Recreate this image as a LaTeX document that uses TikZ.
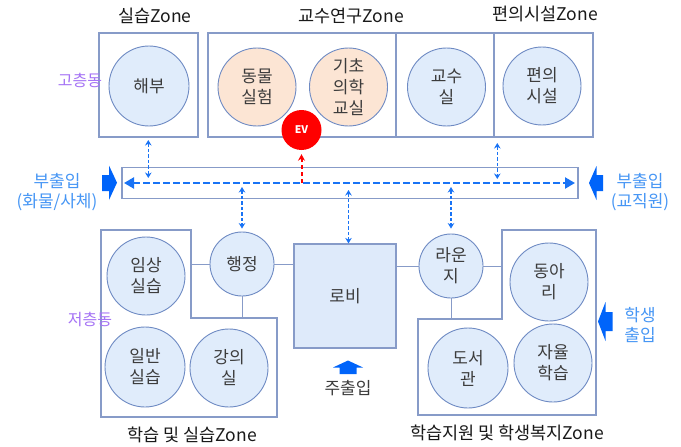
\documentclass[tikz,border=0pt]{standalone}
\usepackage{fontspec}
\setmainfont{Noto Sans CJK KR}
\usetikzlibrary{arrows.meta}
\definecolor{boxline}{RGB}{135,155,200}
\definecolor{circfill}{RGB}{224,236,251}
\definecolor{circline}{RGB}{110,138,195}
\definecolor{orfill}{RGB}{252,229,212}
\definecolor{lobbyfill}{RGB}{222,234,250}
\definecolor{flowblue}{RGB}{25,115,245}
\definecolor{blockblue}{RGB}{0,100,250}
\definecolor{labelblue}{RGB}{70,150,245}
\definecolor{purp}{RGB}{165,115,245}
\definecolor{evred}{RGB}{255,0,0}
\definecolor{txtgray}{RGB}{60,60,60}
\definecolor{hdrcol}{RGB}{25,25,25}
\newcommand\rmfnt{\fontsize{17}{21}\selectfont}
\newcommand\hdfnt{\fontsize{17.5}{20}\selectfont}
\newcommand\sdfnt{\fontsize{17}{20}\selectfont}
\newcommand\wgfnt{\fontsize{16}{20}\selectfont}
\begin{document}
\begin{tikzpicture}[x=1pt,y=-1pt,
  zonebox/.style={draw=boxline, line width=1.2pt},
  room/.style={circle, draw=circline, fill=circfill, line width=0.9pt, inner sep=0pt, align=center, text=txtgray, font=\rmfnt},
  labroom/.style={room, fill=orfill},
  hdr/.style={text=hdrcol, font=\hdfnt},
  entry/.style={text=labelblue, font=\sdfnt, align=center},
  wing/.style={text=purp, font=\wgfnt},
  blockarrow/.style={fill=blockblue, draw=none},
  link/.style={draw=boxline, line width=1pt},
  flow/.style={draw=flowblue, line width=1.3pt, dash pattern=on 3.5pt off 2pt, {Stealth[length=5.5pt,width=6.5pt]}-{Stealth[length=5.5pt,width=6.5pt]}},
  mainflow/.style={draw=flowblue, line width=2.2pt, dash pattern=on 6.5pt off 3.5pt, {Triangle[length=10pt,width=11pt]}-{Triangle[length=10pt,width=11pt]}},
  evflow/.style={draw=evred, line width=2pt, dash pattern=on 4.5pt off 2.5pt, -{Stealth[length=6.5pt,width=7pt]}}
]
\useasboundingbox[fill=white] (0,0) rectangle (681,447);

% top zones
\draw[zonebox] (99,33) rectangle (198,137);
\draw[zonebox] (208,33) rectangle (593,137);
\draw[zonebox] (396,33) -- (396,137);
\draw[zonebox] (494,33) -- (494,137);

\node[room, minimum size=80pt] (haebu) at (149,86) {해부};
\node[labroom, minimum size=78pt] (dongmul) at (257,87) {동물\\실험};
\node[labroom, minimum size=78pt] (gicho) at (348.5,87) {기초\\의학\\교실};
\node[room, minimum size=78pt] (gyosu) at (446.5,87) {교수\\실};
\node[room, minimum size=78pt] (pyeonui) at (542,86) {편의\\시설};
\node[circle, fill=evred, minimum size=40pt, inner sep=0pt, text=white, font=\bfseries\fontsize{10.5}{11}\selectfont] (ev) at (301.5,130) {EV};

% corridor
\node[draw=boxline, line width=1.2pt, fill=white, minimum width=456pt, minimum height=31pt, inner sep=0pt] (corr) at (350,183) {};
\coordinate (mL) at (124,183);
\coordinate (mR) at (575,183);
\draw[mainflow] (mL) -- (mR);

% upper flows
\coordinate (a1t) at (148.3,140);
\coordinate (a1b) at (148.3,178);
\draw[flow] (a1t) -- (a1b);
\coordinate (a2t) at (497.3,143);
\coordinate (a2b) at (497.3,179);
\draw[flow] (a2t) -- (a2b);
\coordinate (evbase) at (301.5,183);
\draw[evflow, shorten >=4pt] (evbase) -- (ev.south);

% lower zones
\coordinate (L1) at (101,230);
\coordinate (L2) at (191,230);
\coordinate (L3) at (191,318);
\coordinate (L4) at (277,318);
\coordinate (L5) at (277,417);
\coordinate (L6) at (101,417);
\draw[zonebox] (L1) -- (L2) -- (L3) -- (L4) -- (L5) -- (L6) -- cycle;
\coordinate (R1) at (502,230);
\coordinate (R2) at (596,230);
\coordinate (R3) at (596,415);
\coordinate (R4) at (418,415);
\coordinate (R5) at (418,319);
\coordinate (R6) at (502,319);
\draw[zonebox] (R1) -- (R2) -- (R3) -- (R4) -- (R5) -- (R6) -- cycle;

\node[room, minimum size=78pt] (imsang) at (146,276) {임상\\실습};
\node[room, minimum size=80pt] (ilban) at (145,367) {일반\\실습};
\node[room, minimum size=78pt] (gangui) at (229,368) {강의\\실};
\node[room, minimum size=64pt] (haengjeong) at (242,264) {행정};
\node[draw=boxline, line width=1.2pt, fill=lobbyfill, minimum width=102pt, minimum height=104pt, inner sep=0pt, text=txtgray, font=\rmfnt] (lobby) at (345,296) {로비};
\node[room, minimum size=64pt] (lounge) at (451,266) {라운\\지};
\node[room, minimum size=78pt] (dongari) at (549,282) {동아\\리};
\node[room, minimum size=80pt] (doseo) at (468,368) {도서\\관};
\node[room, minimum size=78pt] (jayul) at (553,363) {자율\\학습};

% links
\draw[link] (haengjeong.west) -- (haengjeong.west -| L2);
\draw[link] (haengjeong.south) -- (haengjeong.south |- L3);
\draw[link] (haengjeong.east) -- (haengjeong.east -| lobby.west);
\draw[link] (lobby.east |- lounge.west) -- (lounge.west);
\draw[link] (lounge.east) -- (lounge.east -| R1);
\draw[link] (lounge.south) -- (lounge.south |- R6);

% lower flows
\coordinate (b1t) at (242,187);
\draw[flow, shorten >=3pt] (b1t) -- (haengjeong.north);
\coordinate (b2t) at (348.5,190);
\draw[flow] (b2t) -- (lobby.north -| b2t);
\coordinate (b3t) at (451,187);
\draw[flow, shorten >=5pt] (b3t) -- (lounge.north);

% block arrows
\fill[blockarrow] (102,175) -- (109,175) -- (109,165.5) -- (117,182.7) -- (109,200) -- (109,191) -- (102,191) -- cycle;
\fill[blockarrow] (603,175) -- (596.5,175) -- (596.5,166) -- (589,183) -- (596.5,200) -- (596.5,191) -- (603,191) -- cycle;
\fill[blockarrow] (612.5,312) -- (605.5,312) -- (605.5,302) -- (598,321.5) -- (605.5,341) -- (605.5,331) -- (612.5,331) -- cycle;
\fill[blockarrow] (339.5,374) -- (339.5,367.5) -- (333,367.5) -- (348,360.5) -- (363,367.5) -- (356.5,367.5) -- (356.5,374) -- cycle;

% texts
\node[hdr] (h1) at (155,16) {실습Zone};
\node[hdr] (h2) at (351,16) {교수연구Zone};
\node[hdr] (h3) at (545,14) {편의시설Zone};
\node[hdr] (h4) at (192,435) {학습 및 실습Zone};
\node[hdr] (h5) at (507,433) {학습지원 및 학생복지Zone};
\node[wing] (w1) at (80,80) {고층동};
\node[wing] (w2) at (90,319) {저층동};
\node[entry] (e1) at (57,192) {부출입\\(화물/사체)};
\node[entry] (e2) at (640,192) {부출입\\(교직원)};
\node[entry] (e3) at (640,325) {학생\\출입};
\node[entry, text=txtgray] (e4) at (348,388) {주출입};
\end{tikzpicture}
\end{document}
